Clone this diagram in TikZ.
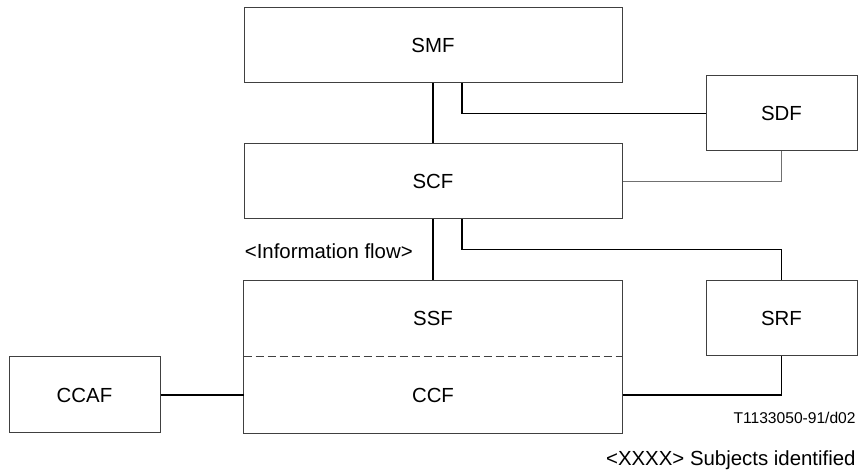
\documentclass[tikz,border=0pt]{standalone}
\usepackage{fontspec}
\setmainfont{Liberation Sans}
\usepackage{tikz}
\usetikzlibrary{positioning,fit,calc}
\definecolor{Edge}{HTML}{404040}
\definecolor{Faint}{HTML}{707070}
\tikzset{
  every node/.append style={text=black, font=\fontsize{10.2}{12}\selectfont},
  box/.style={draw=Edge, line width=0.5pt, minimum width=189pt,
              minimum height=37.5pt, inner sep=0pt},
  smallbox/.style={box, minimum width=75.5pt},
  half/.style={box, draw=none},
  link/.style={line width=0.9pt, draw=black},
  thinlink/.style={line width=0.5pt, draw=Faint},
  tag/.style={inner sep=0pt},
}

\begin{document}
\begin{tikzpicture}
  \useasboundingbox (0,0) rectangle (432pt,-237pt);
  \node[box] (SMF) at (216.5pt,-22.75pt) {SMF};
  \node[box, below=30pt of SMF] (SCF) {SCF};
  \node[half, below=30.5pt of SCF] (SSF) {SSF};
  \node[half, below=0pt of SSF, minimum height=38pt] (CCF) {CCF};
  \node[box, fit=(SSF)(CCF)] (SB) {};
  \draw[Edge, line width=0.5pt, dash pattern=on 4pt off 2pt]
    (SSF.south west) -- (SSF.south east);
  \coordinate (mid) at ($(SMF.south east)!0.5!(SCF.north east)$);
  \node[smallbox, right=41.5pt of mid] (SDF) {SDF};
  \node[smallbox, right=41.5pt of SSF] (SRF) {SRF};
  \node[smallbox, minimum height=38pt, left=41.5pt of CCF] (CCAF) {CCAF};
  \draw[link] (SMF) -- (SCF);
  \draw[link] ([xshift=14.5pt]SMF.south) |- (SDF);
  \draw[thinlink] (SCF) -| (SDF);
  \draw[link] (SCF) -- (SSF);
  \draw[link] ([xshift=14.5pt]SCF.south) -- ++(0,-15pt) -| (SRF);
  \draw[link] (CCAF) -- (CCF);
  \draw[link] (CCF) -| (SRF);
  \node[tag, anchor=west] (flow)
    at ($(SCF.south west)!0.5!(SSF.north west)+(0.5pt,-0.75pt)$) {<Information flow>};
  \node[tag, anchor=east, font=\fontsize{7.8}{9}\selectfont] (ref) at (428pt,-209pt) {T1133050-91/d02};
  \node[tag, anchor=east] (legend) at (428pt,-230pt) {<XXXX> Subjects identified};
\end{tikzpicture}
\end{document}
